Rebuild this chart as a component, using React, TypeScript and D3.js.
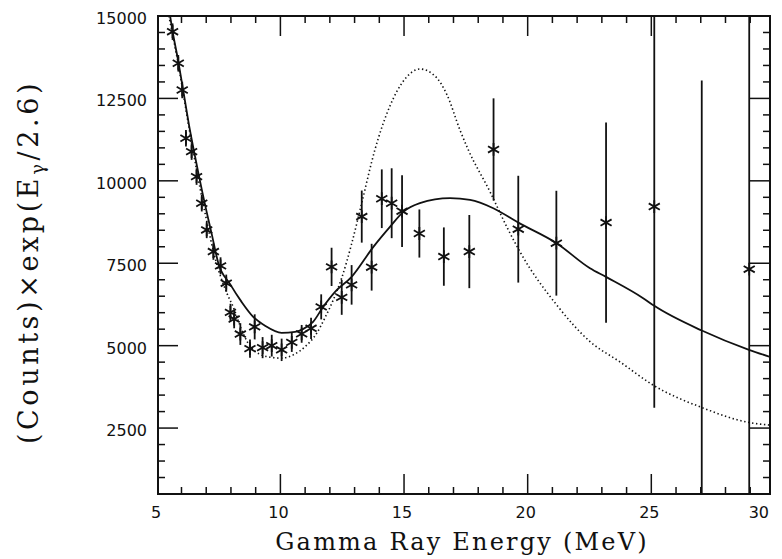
import React from "react";
import * as d3 from "d3";

// Measured spectrum: gamma energy (MeV), weighted counts and 1-sigma errors
const energy = [
  5.64, 5.87, 6.03, 6.18, 6.41, 6.61, 6.82, 7.02, 7.29, 7.58, 7.81, 7.98, 8.13, 8.38,
  8.77, 8.96, 9.28, 9.65, 10.05, 10.46, 10.86, 11.24, 11.65, 12.07, 12.48, 12.88,
  13.29, 13.69, 14.1, 14.5, 14.92, 15.62, 16.61, 17.64, 18.62, 19.62, 21.16, 23.17,
  25.12, 27.04, 28.96,
];
const counts = [
  14524, 13566, 12756, 11292, 10886, 10128, 9321, 8511, 7854, 7420, 6895, 6010, 5807,
  5352, 4910, 5570, 4940, 5000, 4873, 5100, 5358, 5525, 6177, 7390, 6465, 6844, 8915,
  7380, 9457, 9321, 9079, 8402, 7702, 7854, 10952, 8533, 8108, 8733, 9219, 0, 7320,
];
const errors = [
  250, 250, 250, 250, 250, 250, 250, 250, 250, 260, 260, 260, 280, 330, 280, 380, 320,
  330, 340, 290, 270, 320, 380, 580, 530, 600, 790, 710, 890, 1060, 1090, 730, 885,
  1110, 1550, 1620, 1590, 3040, 6100, 13040, 8500,
];

// Fit with a broad resonance (solid line)
const fitBroadE = [
  5.54, 5.63, 5.86, 6.1, 6.34, 6.55, 6.91, 7.23, 7.49, 7.96, 8.43, 8.9, 9.38, 10.05,
  10.59, 10.93, 11.32, 11.73, 12.21, 12.88, 13.76, 14.43, 14.97, 15.64, 16.86, 17.67,
  18.61, 19.62, 21.17, 22.52, 23.17, 24.67, 25.12, 27.04, 28.95, 29.8,
];
const fitBroadV = [
  15000, 14576, 13666, 12605, 11544, 10734, 9421, 8360, 7502, 6874, 6328, 5874, 5601,
  5388, 5419, 5510, 5722, 6177, 6632, 7087, 7996, 8602, 9057, 9321, 9473, 9421, 9169,
  8733, 8108, 7350, 7086, 6441, 6207, 5458, 4873, 4660,
];

// Fit with a narrow resonance (dotted line)
const fitNarrowE = [
  5.49, 5.86, 6.34, 6.91, 7.4, 7.83, 8.09, 8.5, 8.84, 9.45, 10.05, 10.52, 10.99, 11.47,
  11.8, 12.14, 12.48, 12.88, 13.29, 13.82, 14.43, 15.04, 15.64, 16.25, 16.74, 17.26,
  17.6, 18.48, 19.15, 19.69, 21.17, 22.52, 23.73, 25.12, 27.04, 28.95, 29.8,
];
const fitNarrowV = [
  15000, 13575, 11453, 9179, 7541, 6601, 6177, 5358, 4925, 4670, 4621, 4721, 4964, 5379,
  5843, 6389, 7056, 8087, 9330, 10937, 12271, 13090, 13393, 13181, 12605, 11544, 10937,
  9664, 8612, 7845, 6238, 5125, 4509, 3782, 3124, 2669, 2590,
];

const xMajorTicks = [5, 10, 15, 20, 25, 30];
const yMajorTicks = [2500, 5000, 7500, 10000, 12500, 15000];

const W = 782;
const H = 559;
const left = 158;
const right = 770;
const top = 16;
const bottom = 494;

export default function App() {
  const x = d3.scaleLinear().domain([5.05, 29.8]).range([left, right]);
  const y = d3.scaleLinear().domain([500, 15000]).range([bottom, top]);
  const [x0, x1] = x.domain();
  const [y0] = y.domain();

  const xMinor = d3.range(6, 30).filter((v) => v % 5 !== 0 && v >= x0 && v <= x1);
  const yMinor = d3.range(1000, 15000, 500).filter((v) => v % 2500 !== 0 && v >= y0);
  const xMajorIn = xMajorTicks.filter((v) => v >= x0 && v <= x1);

  const line = d3
    .line<[number, number]>()
    .x((d) => x(d[0]))
    .y((d) => y(d[1]))
    .curve(d3.curveMonotoneX);

  const broad = line(fitBroadE.map((e, i) => [e, fitBroadV[i]]) as [number, number][]) || "";
  const narrow = line(fitNarrowE.map((e, i) => [e, fitNarrowV[i]]) as [number, number][]) || "";

  const star = d3.symbol().type(d3.symbolAsterisk).size(115)() || "";

  const major = 20;
  const minor = 7;
  const ink = "#111";

  return (
    <svg
      width={W}
      height={H}
      viewBox={`0 0 ${W} ${H}`}
      style={{ position: "absolute", left: 0, top: 0, background: "#fff" }}
    >
      <defs>
        <clipPath id="plot-area">
          <rect x={left} y={top} width={right - left} height={bottom - top} />
        </clipPath>
      </defs>
      <rect x={0} y={0} width={W} height={H} fill="#fff" />

      {/* ticks on all four sides, pointing inward */}
      <g stroke={ink} strokeWidth={1.5}>
        {xMajorIn.map((v) => (
          <g key={`xM${v}`}>
            <line x1={x(v)} x2={x(v)} y1={bottom} y2={bottom - major} />
            <line x1={x(v)} x2={x(v)} y1={top} y2={top + major} />
          </g>
        ))}
        {xMinor.map((v) => (
          <g key={`xm${v}`}>
            <line x1={x(v)} x2={x(v)} y1={bottom} y2={bottom - minor} />
            <line x1={x(v)} x2={x(v)} y1={top} y2={top + minor} />
          </g>
        ))}
        {yMajorTicks.map((v) => (
          <g key={`yM${v}`}>
            <line x1={left} x2={left + major} y1={y(v)} y2={y(v)} />
            <line x1={right} x2={right - major} y1={y(v)} y2={y(v)} />
          </g>
        ))}
        {yMinor.map((v) => (
          <g key={`ym${v}`}>
            <line x1={left} x2={left + minor} y1={y(v)} y2={y(v)} />
            <line x1={right} x2={right - minor} y1={y(v)} y2={y(v)} />
          </g>
        ))}
      </g>

      <g clipPath="url(#plot-area)">
        {/* fit curves */}
        <path d={broad} fill="none" stroke={ink} strokeWidth={1.8} />
        <path d={narrow} fill="none" stroke={ink} strokeWidth={1.6} strokeDasharray="1.4 2.6" />
        {/* error bars */}
        <g stroke={ink} strokeWidth={1.8}>
          {energy.map((e, i) => (
            <line
              key={`eb${i}`}
              x1={x(e)}
              x2={x(e)}
              y1={y(counts[i] - errors[i])}
              y2={y(counts[i] + errors[i])}
            />
          ))}
        </g>
        {/* data markers */}
        <g stroke={ink} strokeWidth={1.8} fill="none">
          {energy.map((e, i) => (
            <path key={`pt${i}`} d={star} transform={`translate(${x(e)},${y(counts[i])})`} />
          ))}
        </g>
      </g>

      {/* frame */}
      <rect
        x={left}
        y={top}
        width={right - left}
        height={bottom - top}
        fill="none"
        stroke={ink}
        strokeWidth={2}
      />

      {/* tick labels */}
      <g fontFamily="DejaVu Sans" fontSize={16} fill={ink}>
        {yMajorTicks.map((v) => (
          <text key={`yl${v}`} x={left - 11} y={y(v) + 8} textAnchor="end">
            {v}
          </text>
        ))}
        {xMajorTicks.map((v, i) => {
          const last = i === xMajorTicks.length - 1;
          const pos = x(Math.max(x0, Math.min(x1, v)));
          return (
            <text
              key={`xl${v}`}
              x={last ? pos - 1 : pos - 2}
              y={518}
              textAnchor={last ? "end" : "middle"}
            >
              {v}
            </text>
          );
        })}
      </g>

      {/* axis titles */}
      <text
        x={462}
        y={550}
        textAnchor="middle"
        fontFamily="DejaVu Serif"
        fontSize={24}
        letterSpacing={2.2}
        fill={ink}
      >
        Gamma Ray Energy (MeV)
      </text>
      <text
        transform="translate(38,262) rotate(-90)"
        textAnchor="middle"
        fontFamily="DejaVu Serif"
        fontSize={27}
        letterSpacing={3.6}
        fill={ink}
      >
        (Counts)×exp(E
        <tspan fontSize={18} dy={6}>
          γ
        </tspan>
        <tspan dy={-6}>/2.6)</tspan>
      </text>
    </svg>
  );
}
